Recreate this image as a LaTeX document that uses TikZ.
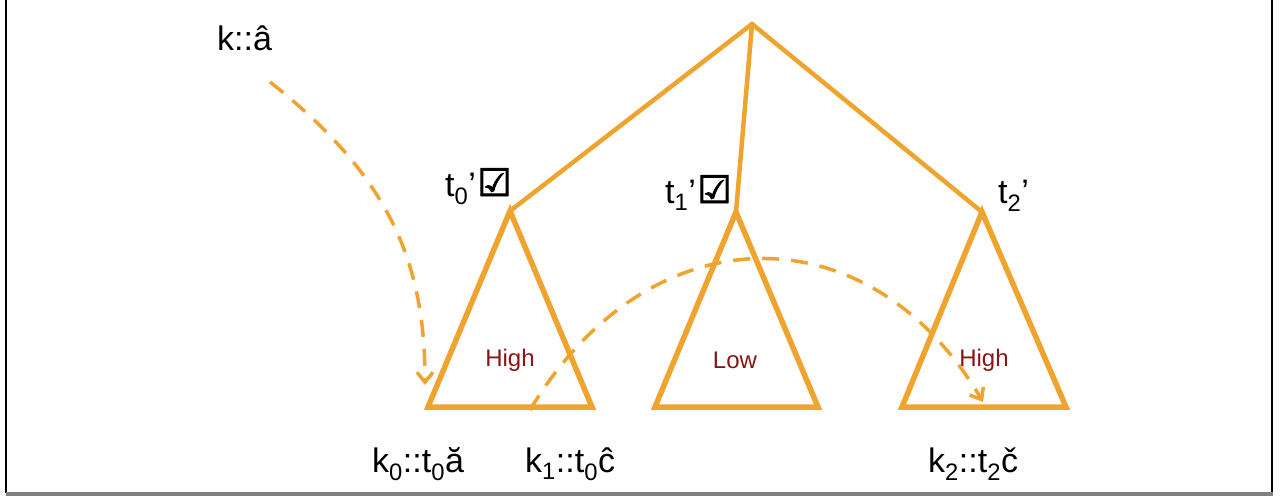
\documentclass[tikz,border=0pt]{standalone}
\usepackage{fontspec}
\setmainfont{Liberation Sans}
\newfontfamily\symfont[FakeBold=2.5]{DejaVu Sans}
\usetikzlibrary{arrows.meta}
\definecolor{tri}{RGB}{239,164,48}
\definecolor{lvl}{RGB}{135,22,22}
\definecolor{barg}{RGB}{128,128,128}
\newcommand{\chk}{\hspace{1.5pt}{\symfont\fontsize{38}{38}\selectfont ☑}}
\tikzset{
  treeline/.style={draw=tri,line width=4.5pt,line join=round,line cap=round},
  triline/.style={draw=tri,line width=5.5pt,line join=miter},
  dashcurve/.style={draw=tri,line width=3.5pt,dash pattern=on 17pt off 12pt,-{Straight Barb[length=10pt,width=16pt,line width=3.5pt]}},
  biglbl/.style={anchor=base west,inner sep=0pt,font=\fontsize{34}{40}\selectfont},
  lvllbl/.style={text=lvl,inner sep=0pt,font=\fontsize{24}{28}\selectfont}
}
\begin{document}
\begin{tikzpicture}[x=1pt,y=-1pt]
\useasboundingbox (0,0) rectangle (1280,496);
% frame
\draw[line width=2pt,black] (6,0) -- (6,493);
\draw[line width=2pt,black] (1272,0) -- (1272,493);
\fill[barg] (6,492) rectangle (1273,496);
% coordinates
\coordinate (root) at (752,24);
\coordinate (a0) at (510,211);
\coordinate (a1) at (736,212);
\coordinate (a2) at (982,212);
\coordinate (l0) at (428,407);
\coordinate (r0) at (592,407);
\coordinate (l1) at (655,407);
\coordinate (r1) at (818,407);
\coordinate (l2) at (902,407);
\coordinate (r2) at (1066,407);
% tree edges
\draw[treeline] (root) -- (a0);
\draw[treeline] (root) -- (a1);
\draw[treeline] (root) -- (a2);
% triangles
\draw[triline] (a0) -- (l0) -- (r0) -- cycle;
\draw[triline] (a1) -- (l1) -- (r1) -- cycle;
\draw[triline] (a2) -- (l2) -- (r2) -- cycle;
% level labels
\node[lvllbl] (h0) at (510,360) {High};
\node[lvllbl] (lo) at (735,360) {Low};
\node[lvllbl] (h2) at (984,360) {High};
% top labels
\node[biglbl] (t0) at (445,196) {t\textsubscript{0}’\chk};
\node[biglbl] (t1) at (665,203) {t\textsubscript{1}’\chk};
\node[biglbl] (t2) at (998,203) {t\textsubscript{2}’};
\node[biglbl] (k) at (217,50) {k::â};
% bottom labels
\node[biglbl] (k0) at (372,472) {k\textsubscript{0}::t\textsubscript{0}ă};
\node[biglbl] (k1) at (525,472) {k\textsubscript{1}::t\textsubscript{0}ĉ};
\node[biglbl] (k2) at (928,472) {k\textsubscript{2}::t\textsubscript{2}č};
% dashed curves
\coordinate (s1) at (270,82);
\coordinate (e1) at (425,385);
\coordinate (s2) at (530,410);
\coordinate (e2) at (983,402);
\draw[dashcurve] (s1) .. controls (395,180) and (425,270) .. (e1);
\draw[dashcurve] (s2) .. controls (650,210) and (870,210) .. (e2);
\end{tikzpicture}
\end{document}
